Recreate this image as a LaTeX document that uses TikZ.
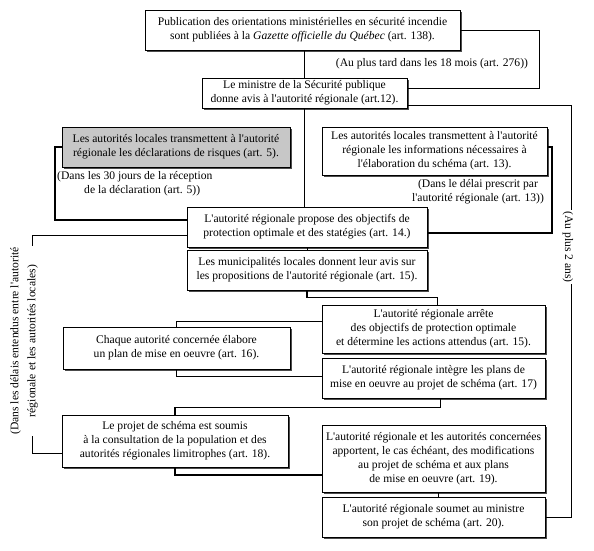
\documentclass[tikz,border=0pt]{standalone}
\usepackage{fontspec}
\setmainfont{Liberation Serif}
\usetikzlibrary{shadows,calc}
\newcommand{\ap}{\textquotesingle}
\begin{document}
\begin{tikzpicture}[x=1pt,y=-1pt,
  box/.style={draw=black, line width=0.8pt, fill=white, align=center, inner sep=1pt,
    font=\fontsize{11.6}{14}\selectfont,
    drop shadow={shadow xshift=2pt, shadow yshift=-2pt, fill=black!70, opacity=1}},
  graybox/.style={box, fill=black!22},
  conn/.style={line width=0.9pt},
  tconn/.style={line width=1.7pt},
  lab/.style={font=\fontsize{11.6}{14}\selectfont, inner sep=1pt}]
\useasboundingbox (0,0) rectangle (594,551);

\coordinate (r18) at (539,0);
\coordinate (r2) at (571,0);
\coordinate (r4) at (552,0);
\coordinate (l3) at (55,0);
\coordinate (lb) at (32,0);

\node[box, minimum width=315pt, minimum height=40pt] (b1) at (302.5,30)
  {Publication des orientations ministérielles en sécurité incendie\\sont publiées à la \textit{Gazette officielle du Québec} (art. 138).};
\node[box, minimum width=205pt, minimum height=30pt] (b2) at (304.5,93)
  {Le ministre de la Sécurité publique\\donne avis à l\ap autorité régionale (art.12).};
\node[graybox, minimum width=228pt, minimum height=40pt] (b3) at (176,147)
  {Les autorités locales transmettent à l\ap autorité\\régionale les déclarations de risques (art. 5).};
\node[box, minimum width=225pt, minimum height=48pt] (b4) at (434.5,151)
  {Les autorités locales transmettent à l\ap autorité\\régionale les informations nécessaires à\\l\ap élaboration du schéma (art. 13).};
\node[box, minimum width=240pt, minimum height=40pt] (b5) at (307,227)
  {L\ap autorité régionale propose des objectifs de\\protection optimale et des statégies (art. 14.)};
\node[box, minimum width=240pt, minimum height=40pt] (b6) at (307,270)
  {Les municipalités locales donnent leur avis sur\\les propositions de l\ap autorité régionale (art. 15).};
\node[box, minimum width=223pt, minimum height=48pt] (b7) at (433.5,329)
  {L\ap autorité régionale arrête\\des objectifs de protection optimale\\et détermine les actions attendus (art. 15).};
\node[box, minimum width=223pt, minimum height=40pt] (b8) at (433.5,378)
  {L\ap autorité régionale intègre les plans de\\mise en oeuvre au projet de schéma (art. 17)};
\node[box, minimum width=227pt, minimum height=42pt] (bc) at (176.5,348)
  {Chaque autorité concernée élabore\\un plan de mise en oeuvre (art. 16).};
\node[box, minimum width=226pt, minimum height=52pt] (b9) at (175,441)
  {Le projet de schéma est soumis\\à la consultation de la population et des\\autorités régionales limitrophes (art. 18).};
\node[box, minimum width=223pt, minimum height=67pt] (b10) at (433.5,458.5)
  {L\ap autorité régionale et les autorités concernées\\apportent, le cas échéant, des modifications\\au projet de schéma et aux plans\\de mise en oeuvre (art. 19).};
\node[box, minimum width=223pt, minimum height=40pt] (b11) at (433.5,517)
  {L\ap autorité régionale soumet au ministre\\son projet de schéma (art. 20).};

% trunk
\draw[conn] (b2.north |- b1.south) -- (b2.north);
\draw[conn] (b2.south) -- (b2.south |- b5.north);
\draw[conn] (b5.south) -- (b6.north);
\draw[tconn] (b6.south) -- ++(0,7) -| ([xshift=4pt]b7.north);
\draw[conn] ([yshift=8pt]b7.west) -| (bc.north);
\draw[conn] (bc.south) |- ([yshift=2pt]b8.west);
\draw[tconn] ([xshift=7pt]b8.south) -- ++(0,9) -| (b9.north);
\draw[tconn] (b9.south) |- ([yshift=-16.5pt]b10.west);
\draw[conn] ([xshift=5pt]b10.south) -- ([xshift=5pt]b11.north);

% brackets
\draw[conn] (b1.east) -| ([yshift=5pt]b2.east -| r18) -- ([yshift=5pt]b2.east);
\draw[conn] ([yshift=-12pt]b2.east) -| (r2 |- b11.east) -- (b11.east);
\draw[tconn] ([yshift=4pt]b4.east) -| ([yshift=-6pt]b5.east -| r4) -- ([yshift=-6pt]b5.east);
\draw[tconn] (b3.west) -| ([yshift=7pt]b5.west -| l3) -- ([yshift=7pt]b5.west);
\draw[conn] ([yshift=-8pt]b5.west) -| ([yshift=-12pt]b9.west -| lb) -- ([yshift=-12pt]b9.west);

% labels
\node[lab] (t18) at (432,64) {(Au plus tard dans les 18 mois (art. 276))};
\node[lab, anchor=north west, align=left] (t30) at (56,170)
  {(Dans les 30 jours de la réception\\\hspace*{27pt}de la déclaration (art. 5))};
\node[lab, align=center] (t13) at (478,192)
  {(Dans le délai prescrit par\\l\ap autorité régionale (art. 13))};
\node[lab, align=center, rotate=90, fill=white, font=\fontsize{11.6}{17}\selectfont] (tl) at (24,341)
  {(Dans les délais entendus entre l\ap autorité\\régionale et les autorités locales)};
\node[lab, rotate=-90, fill=white] (t2) at (568,247) {(Au plus 2 ans)};
\end{tikzpicture}
\end{document}
